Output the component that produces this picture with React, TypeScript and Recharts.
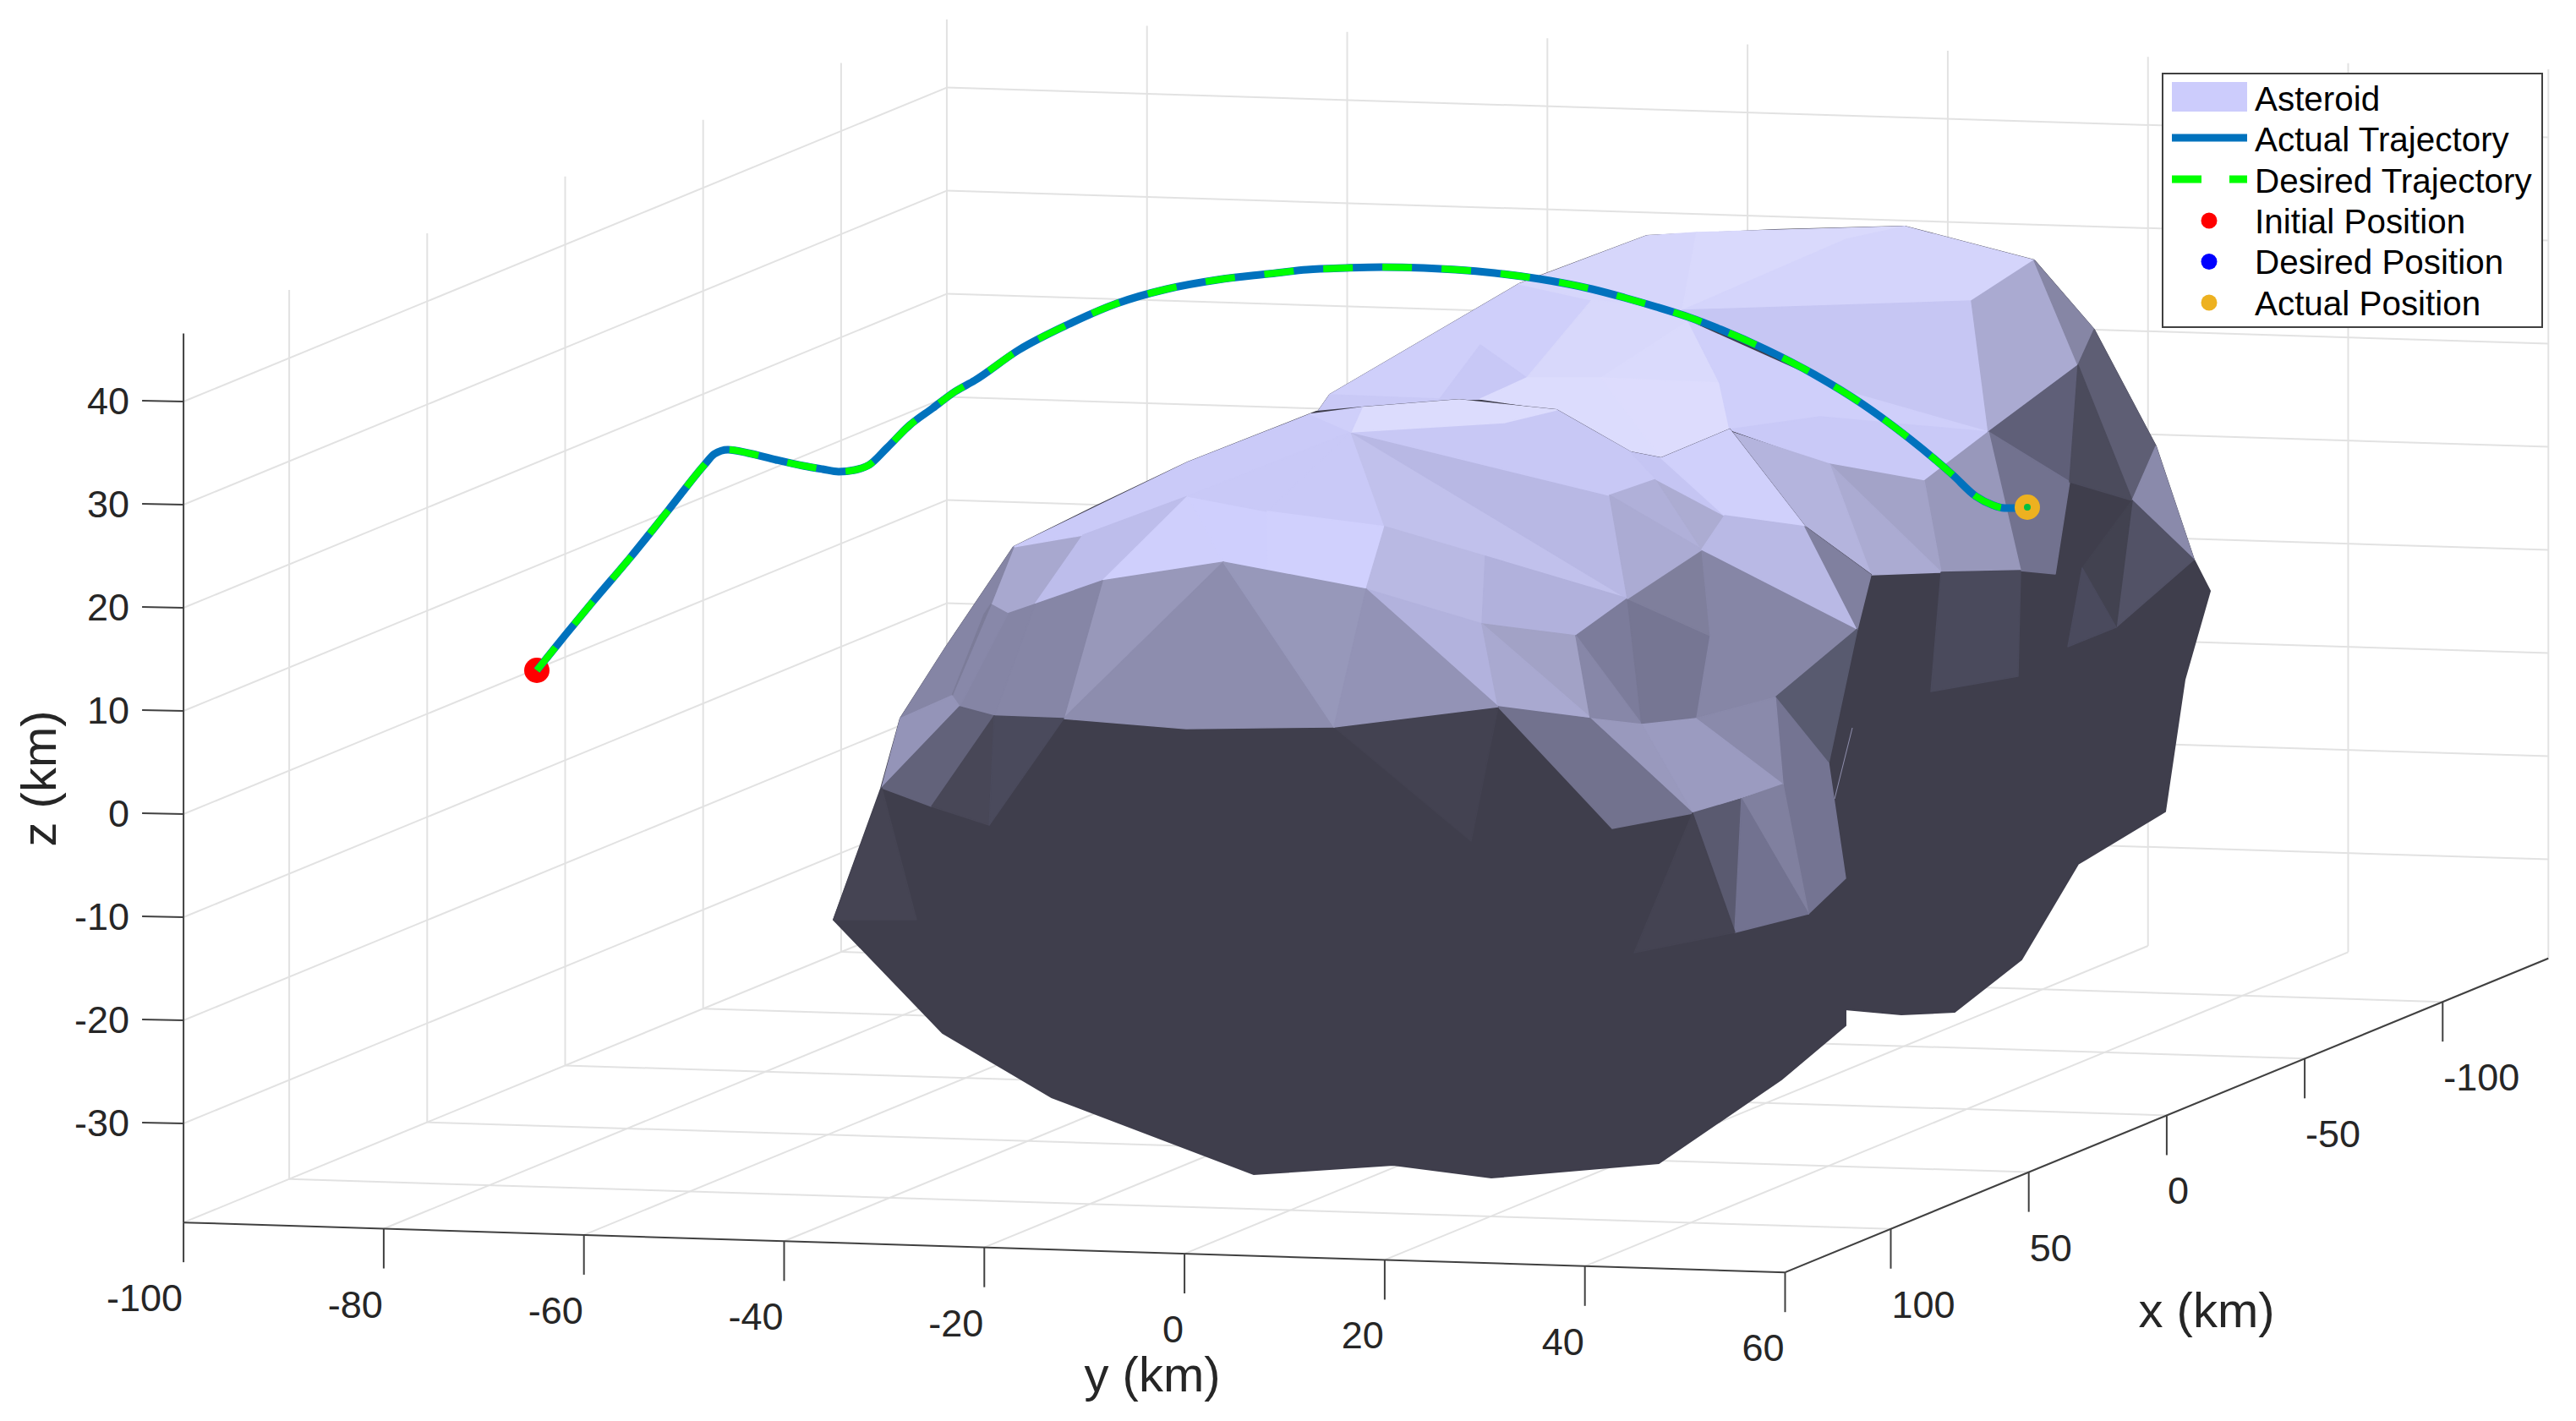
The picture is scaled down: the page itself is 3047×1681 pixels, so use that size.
import { ScatterChart, Scatter, XAxis, YAxis, Legend } from "recharts"

const WIDTH = 3047
const HEIGHT = 1681

// tick values on the three axes (km)
const xTicks = [100, 50, 0, -50, -100]
const yTicks = [-100, -80, -60, -40, -20, 0, 20, 40, 60]
const zTicks = [40, 30, 20, 10, 0, -10, -20, -30]
const xLim = [-138.3, 138.3]
const yLim = [-100, 60]
const zLim = [-39.6, 46.6]

// camera view of km coordinates on the picture plane
function project(x: number, y: number, z: number) {
  return {
    u: 1852.5 - 3.264 * x + 11.84 * y,
    v: 814.2 + 1.343 * x + 0.369 * y - 12.2 * z,
  }
}

// spacecraft path
const trajectory = [
  [635, 793], [668, 752], [701, 712], [746, 659], [791, 603], [834, 549], [845, 537], [861, 532],
  [885, 536], [918, 544], [950, 551], [973, 555], [992, 558], [1011, 556], [1028, 550], [1049, 530],
  [1076, 503], [1103, 483], [1130, 463], [1153, 450], [1205, 414], [1263, 384], [1321, 359], [1380, 342],
  [1440, 331], [1500, 324], [1546, 319], [1592, 317], [1634, 316], [1684, 317],
  [1722, 319], [1768, 323], [1821, 330], [1883, 342], [1921, 352], [1959, 363], [1997, 375], [2036, 390],
  [2088, 413], [2146, 443], [2203, 478], [2260, 520], [2287, 542], [2310, 562], [2337, 587], [2356, 597],
  [2371, 601], [2398, 601],
]
const initialPosition = [635, 793]
const actualPosition = [2398, 600]

// asteroid outlines
const rearOutline = [
  [1559, 487], [1573, 467], [1797, 336], [1823, 326], [1948, 279], [2100, 272], [2253, 268], [2406, 308],
  [2477, 390], [2550, 528], [2595, 662], [2614, 699], [2584, 804], [2561, 960], [2458, 1022], [2391, 1135],
  [2312, 1197], [2249, 1200], [2183, 1194], [2100, 1100],
]
const frontOutline = [
  [986, 1088], [1042, 933], [1065, 850], [1118, 767], [1199, 647], [1294, 600], [1405, 547], [1557, 487],
  [1611, 482], [1726, 473], [1841, 485], [1929, 535], [1965, 542], [2046, 508], [2135, 623], [2213, 680],
  [2197, 744], [2163, 903], [2183, 1039], [2183, 1213], [2107, 1277], [1962, 1376], [1764, 1393], [1648, 1378],
  [1483, 1389], [1244, 1298], [1115, 1222],
]

// rear lobe facets and their shades
const rearFacets = [
  [[1573, 467], [1797, 336], [1883, 355], [1806, 447], [1751, 408], [1703, 472]],
  [[1751, 408], [1806, 447], [1751, 472], [1703, 472]],
  [[1559, 487], [1573, 467], [1703, 472], [1751, 472], [1726, 473], [1611, 482]],
  [[1797, 336], [1948, 279], [2007, 275], [1990, 367], [1883, 355]],
  [[1883, 355], [1990, 367], [1997, 380], [1894, 447], [1806, 447]],
  [[1997, 380], [2034, 453], [1894, 447]],
  [[1806, 447], [1894, 447], [1965, 542], [1929, 535], [1841, 485], [1751, 472]],
  [[1894, 447], [2034, 453], [2046, 508], [1965, 542]],
  [[2007, 275], [2253, 268], [2184, 283], [2050, 343], [1990, 367]],
  [[2184, 283], [2253, 268], [2406, 308], [2332, 356], [1990, 367]],
  [[1990, 367], [2332, 356], [2352, 511], [2180, 462], [2050, 395], [1997, 380]],
  [[1997, 380], [2180, 462], [2352, 511], [2276, 569], [2164, 549], [2046, 508], [2034, 453]],
  [[2046, 508], [2153, 493], [2352, 511], [2276, 569], [2164, 549]],
  [[2332, 356], [2406, 308], [2458, 432], [2352, 511]],
  [[2406, 308], [2477, 390], [2458, 432]],
  [[2352, 511], [2458, 432], [2448, 570]],
  [[2352, 511], [2448, 570], [2431, 679], [2390, 675]],
  [[2352, 511], [2276, 569], [2296, 677], [2390, 675]],
  [[2164, 549], [2276, 569], [2296, 677]],
  [[2164, 549], [2296, 677], [2213, 680]],
  [[2050, 512], [2164, 549], [2213, 680], [2135, 623]],
  [[2458, 432], [2477, 390], [2550, 528], [2522, 592]],
  [[2458, 432], [2522, 592], [2448, 570]],
  [[2522, 592], [2550, 528], [2595, 662]],
  [[2522, 592], [2595, 662], [2503, 742]],
  [[2522, 592], [2503, 742], [2463, 672]],
  [[2463, 672], [2503, 742], [2446, 765]],
  [[2296, 677], [2390, 675], [2387, 800], [2284, 818]],
]
const rearShades = [
  "#cfcffa", "#c8c8f6", "#c9c9f6", "#d6d6fb", "#d8d8fb", "#dadafc", "#dcdcfd", "#dddcfd", "#d9d9fc", "#d4d4fb",
  "#c6c6f3", "#cfcffa", "#c9c9f7", "#aaaad1", "#8686a5", "#5f5f78", "#72728f", "#9898bb", "#a3a3c8", "#ababd2",
  "#b4b4dd", "#5e5e74", "#4b4b5c", "#8a8aab", "#525266", "#424250", "#4a4a5d", "#4a4a5c",
]

// front lobe facets and their shades
const frontFacets = [
  [[1199, 647], [1281, 633], [1224, 715], [1192, 726], [1172, 715]],
  [[1199, 647], [1405, 547], [1550, 490], [1598, 511], [1405, 587], [1281, 633]],
  [[1281, 633], [1405, 587], [1304, 687], [1224, 715]],
  [[1405, 587], [1447, 665], [1304, 687]],
  [[1405, 587], [1499, 605], [1550, 685], [1447, 665]],
  [[1405, 587], [1598, 511], [1499, 605]],
  [[1499, 605], [1598, 511], [1638, 623]],
  [[1499, 605], [1638, 623], [1616, 697], [1500, 677]],
  [[1598, 511], [1925, 708], [1757, 658], [1638, 623]],
  [[1598, 511], [1904, 586], [1925, 708]],
  [[1598, 511], [1779, 500], [1841, 485], [1929, 535], [1959, 567], [1904, 586]],
  [[1598, 511], [1611, 482], [1726, 473], [1841, 485], [1779, 500]],
  [[1550, 490], [1611, 482], [1598, 511]],
  [[1638, 623], [1757, 658], [1753, 738], [1616, 697]],
  [[1757, 658], [1925, 708], [1864, 752], [1753, 738]],
  [[1616, 697], [1753, 738], [1772, 836]],
  [[1753, 738], [1864, 752], [1881, 849]],
  [[1753, 738], [1881, 849], [1772, 836]],
  [[1864, 752], [1925, 708], [1942, 857]],
  [[1864, 752], [1942, 857], [1881, 849]],
  [[1925, 708], [2023, 752], [2007, 849], [1942, 857]],
  [[1925, 708], [2013, 650], [2023, 752]],
  [[2013, 650], [2100, 695], [2197, 744], [2100, 825], [2007, 849], [2023, 752]],
  [[1904, 586], [1959, 567], [2013, 650]],
  [[1904, 586], [2013, 650], [1925, 708]],
  [[1959, 567], [2040, 610], [2013, 650]],
  [[1965, 542], [2040, 610], [1959, 567], [1929, 535]],
  [[1965, 542], [2046, 508], [2135, 623], [2040, 610]],
  [[2040, 610], [2135, 623], [2197, 744], [2013, 650]],
  [[2135, 623], [2213, 680], [2197, 744]],
  [[2197, 744], [2163, 903], [2100, 825]],
  [[2100, 825], [2163, 903], [2183, 1039], [2139, 1081], [2107, 928]],
  [[2006, 850], [2100, 825], [2109, 928]],
  [[1942, 857], [2006, 850], [2109, 928], [2002, 962]],
  [[1881, 850], [1942, 857], [2002, 962]],
  [[1772, 836], [1881, 850], [2002, 962], [1907, 980]],
  [[2002, 962], [2060, 945], [2052, 1103]],
  [[2060, 945], [2109, 928], [2139, 1081]],
  [[2060, 945], [2139, 1081], [2052, 1103]],
  [[2002, 962], [2052, 1103], [1933, 1127]],
  [[1772, 836], [1578, 860], [1740, 995]],
  [[1304, 687], [1447, 665], [1258, 850]],
  [[1447, 665], [1578, 860], [1403, 862], [1258, 850]],
  [[1447, 665], [1616, 697], [1578, 860]],
  [[1616, 697], [1772, 836], [1578, 860]],
  [[1304, 687], [1258, 850], [1176, 847], [1224, 715]],
  [[1224, 715], [1176, 847], [1135, 836], [1192, 726]],
  [[1192, 726], [1135, 836], [1126, 823], [1172, 715]],
  [[1199, 647], [1172, 715], [1126, 823], [1065, 850], [1118, 767]],
  [[1172, 715], [1126, 823], [1164, 727]],
  [[1126, 823], [1135, 836], [1043, 932], [1065, 850]],
  [[1135, 836], [1176, 847], [1102, 954], [1043, 932]],
  [[1176, 847], [1170, 976], [1102, 954]],
  [[1176, 847], [1258, 850], [1170, 976]],
  [[1043, 932], [1084, 1088], [986, 1088]],
]
const frontShades = [
  "#a8a8cf", "#cacaf8", "#bdbdeb", "#cfcffc", "#cfcffd", "#c9c9f7", "#c9c9f7", "#d0d0fd", "#c1c1ec", "#b8b8e4",
  "#c8c8f5", "#dcdcfd", "#cfcffa", "#b9b9e3", "#b1b1dc", "#b2b2dd", "#a2a2c6", "#a9a9d0", "#7c7c9b", "#8787a8",
  "#767693", "#7f7f9c", "#8686a6", "#b0b0d9", "#ababd3", "#acacd2", "#c5c5f3", "#d0d0fb", "#b9b9e5", "#80809f",
  "#585a6f", "#747492", "#8a8aab", "#9b9bc0", "#9999bd", "#72728e", "#5a5a70", "#80809f", "#727290", "#444352",
  "#434251", "#9898ba", "#8d8dae", "#9798ba", "#9393b6", "#8686a6", "#8585a5", "#8888a9", "#8585a5", "#7c7c99",
  "#9494b8", "#62627a", "#484757", "#4a4a5c", "#454453",
]
const crackLine = [[2191, 861], [2170, 945]]

const legendLabels = ["Asteroid", "Actual Trajectory", "Desired Trajectory", "Initial Position", "Desired Position", "Actual Position"]
const legendDots = ["#ff0000", "#0000ff", "#edb120"]

const toPoints = (list: number[][]) => list.map(([u, v]) => ({ u, v }))
const noDot = () => <g />
const FONT = "'Liberation Sans', Arial, sans-serif"

function gridSegments() {
  const segs: { u: number; v: number }[][] = []
  for (const x of xTicks) {
    segs.push([project(x, yLim[0], zLim[0]), project(x, yLim[1], zLim[0])])
    segs.push([project(x, yLim[0], zLim[0]), project(x, yLim[0], zLim[1])])
  }
  for (const y of yTicks) {
    segs.push([project(xLim[1], y, zLim[0]), project(xLim[0], y, zLim[0])])
    segs.push([project(xLim[0], y, zLim[0]), project(xLim[0], y, zLim[1])])
  }
  for (const z of zTicks) {
    segs.push([project(xLim[1], yLim[0], z), project(xLim[0], yLim[0], z)])
    segs.push([project(xLim[0], yLim[0], z), project(xLim[0], yLim[1], z)])
  }
  return segs
}

function axisSegments() {
  const segs = [
    [project(xLim[1], yLim[0], zLim[0]), project(xLim[1], yLim[0], zLim[1])],
    [project(xLim[1], yLim[0], zLim[0]), project(xLim[1], yLim[1], zLim[0])],
    [project(xLim[1], yLim[1], zLim[0]), project(xLim[0], yLim[1], zLim[0])],
  ]
  for (const z of zTicks) {
    const p = project(xLim[1], yLim[0], z)
    segs.push([p, { u: p.u - 49, v: p.v - 1 }])
  }
  for (const y of yTicks) {
    const p = project(xLim[1], y, zLim[0])
    segs.push([p, { u: p.u, v: p.v + 47 }])
  }
  for (const x of xTicks) {
    const p = project(x, yLim[1], zLim[0])
    segs.push([p, { u: p.u, v: p.v + 47 }])
  }
  return segs
}

function tickLabels() {
  const labels: { u: number; v: number; text: string; anchor: string }[] = []
  for (const z of zTicks) labels.push({ u: 153, v: project(xLim[1], yLim[0], z).v + 15, text: String(z), anchor: "end" })
  for (const y of yTicks) {
    const p = project(xLim[1], y, zLim[0])
    labels.push({ u: p.u - 1, v: p.v + 105, text: String(y), anchor: "end" })
  }
  for (const x of xTicks) {
    const p = project(x, yLim[1], zLim[0])
    labels.push({ u: p.u + 1, v: p.v + 105, text: String(x), anchor: "start" })
  }
  return labels
}

const axisTitles = [
  { u: 1363, v: 1646, text: "y (km)", angle: 0 },
  { u: 2610, v: 1570, text: "x (km)", angle: 0 },
  { u: 66, v: 921, text: "z (km)", angle: -90 },
]

function LegendBox() {
  const baselines = [45, 93, 142, 190, 238, 287]
  return (
    <svg width={452} height={302} style={{ display: "block" }}>
      <rect x={1} y={1} width={449} height={300} fill="#fff" stroke="#404040" strokeWidth={2} />
      <rect x={12} y={11} width={89} height={35} fill="#ccccfc" />
      <line x1={12} x2={101} y1={77} y2={77} stroke="#0072bd" strokeWidth={9} />
      <line x1={12} x2={101} y1={126} y2={126} stroke="#00ff00" strokeWidth={9} strokeDasharray="35 33" />
      {legendDots.map((c, i) => (
        <circle key={c} cx={56} cy={175 + i * 48.5} r={9.5} fill={c} />
      ))}
      {legendLabels.map((t, i) => (
        <text key={t} x={110} y={baselines[i]} fontFamily={FONT} fontSize={40.4} fill="#000">
          {t}
        </text>
      ))}
    </svg>
  )
}

const facetSeries = (facets: number[][][], shades: string[], name: string) =>
  facets.map((f, i) => (
    <Scatter
      key={`${name}-${i}`}
      data={toPoints(f)}
      shape={noDot}
      lineJointType="linearClosed"
      line={{ fill: shades[i], stroke: shades[i], strokeWidth: 1.5, strokeLinejoin: "round" }}
      isAnimationActive={false}
    />
  ))

export default function App() {
  return (
    <div style={{ position: "absolute", left: 0, top: 0, width: WIDTH, height: HEIGHT, background: "#fff" }}>
      <ScatterChart width={WIDTH} height={HEIGHT} margin={{ top: 0, right: 0, bottom: 0, left: 0 }}>
        <XAxis type="number" dataKey="u" domain={[0, WIDTH]} hide />
        <YAxis type="number" dataKey="v" domain={[0, HEIGHT]} reversed hide />
        {gridSegments().map((s, i) => (
          <Scatter key={`grid-${i}`} data={s} shape={noDot} line={{ stroke: "#e2e2e2", strokeWidth: 2 }} isAnimationActive={false} />
        ))}
        {axisSegments().map((s, i) => (
          <Scatter key={`axis-${i}`} data={s} shape={noDot} line={{ stroke: "#404040", strokeWidth: 2 }} isAnimationActive={false} />
        ))}
        <Scatter
          data={toPoints(rearOutline)}
          shape={noDot}
          lineJointType="linearClosed"
          line={{ fill: "#3f3e4c", stroke: "#3f3e4c", strokeWidth: 2 }}
          isAnimationActive={false}
        />
        {facetSeries(rearFacets, rearShades, "rear")}
        <Scatter
          data={toPoints(frontOutline)}
          shape={noDot}
          lineJointType="linearClosed"
          line={{ fill: "#3f3e4c", stroke: "#3f3e4c", strokeWidth: 2 }}
          isAnimationActive={false}
        />
        {facetSeries(frontFacets, frontShades, "front")}
        <Scatter data={toPoints(crackLine)} shape={noDot} line={{ stroke: "#8f8fae", strokeWidth: 1 }} isAnimationActive={false} />
        <Scatter
          data={toPoints([initialPosition])}
          shape={(p: any) => <circle cx={p.cx} cy={p.cy} r={15} fill="#ff0000" />}
          isAnimationActive={false}
        />
        <Scatter
          name="Actual Trajectory"
          data={toPoints(trajectory)}
          shape={noDot}
          lineJointType="monotoneX"
          line={{ stroke: "#0072bd", strokeWidth: 9, strokeLinejoin: "round" }}
          isAnimationActive={false}
        />
        <Scatter
          name="Desired Trajectory"
          data={toPoints(trajectory)}
          shape={noDot}
          lineJointType="monotoneX"
          line={{ stroke: "#00ff00", strokeWidth: 8, strokeDasharray: "35 35", strokeLinejoin: "round" }}
          isAnimationActive={false}
        />
        <Scatter
          data={toPoints([actualPosition])}
          shape={(p: any) => (
            <g>
              <circle cx={p.cx} cy={p.cy} r={15} fill="#edb120" />
              <circle cx={p.cx} cy={p.cy} r={4} fill="#00c040" />
            </g>
          )}
          isAnimationActive={false}
        />
        <Scatter
          data={tickLabels()}
          shape={(p: any) => (
            <text x={p.cx} y={p.cy} textAnchor={p.payload.anchor} fontFamily={FONT} fontSize={45} fill="#262626">
              {p.payload.text}
            </text>
          )}
          isAnimationActive={false}
        />
        <Scatter
          data={axisTitles}
          shape={(p: any) => (
            <text
              x={p.cx}
              y={p.cy}
              textAnchor="middle"
              fontFamily={FONT}
              fontSize={58}
              fill="#262626"
              transform={`rotate(${p.payload.angle} ${p.cx} ${p.cy})`}
            >
              {p.payload.text}
            </text>
          )}
          isAnimationActive={false}
        />
        <Legend
          layout="vertical"
          align="center"
          verticalAlign="middle"
          wrapperStyle={{ left: 2557, top: 86, width: 452, height: 302 }}
          content={() => <LegendBox />}
        />
      </ScatterChart>
    </div>
  )
}
